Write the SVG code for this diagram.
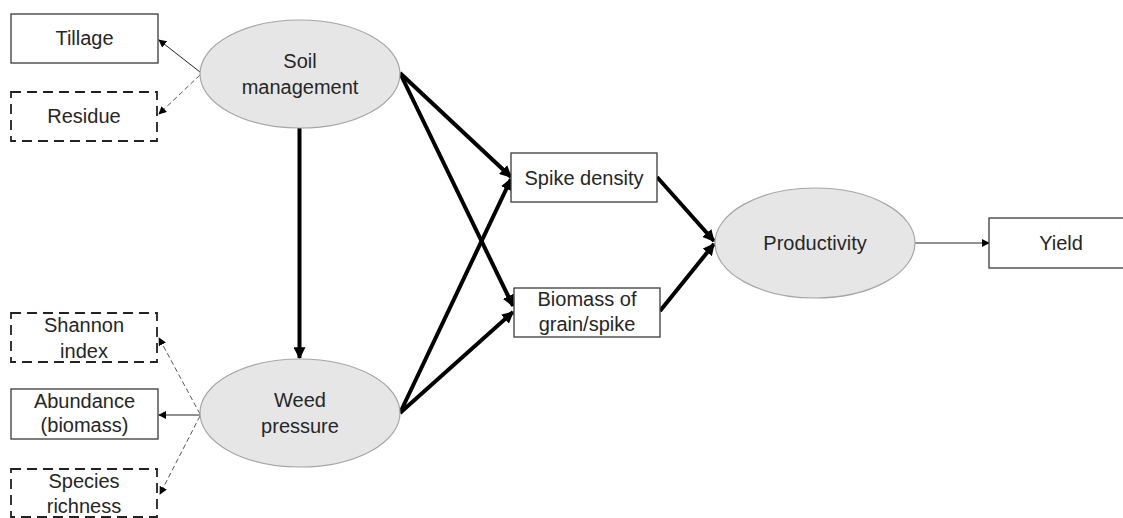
<svg xmlns="http://www.w3.org/2000/svg" width="1123" height="518" viewBox="0 0 1123 518">
<style>
text{font-family:"Liberation Sans",Arial,sans-serif;font-size:20px;fill:#262626;text-anchor:middle}
.box{fill:#fff;stroke:#3a3a3a;stroke-width:1.3}
.dbox{fill:#fff;stroke:#222;stroke-width:1.8;stroke-dasharray:10 6}
.ell{fill:#e6e6e6;stroke:#a6a6a6;stroke-width:1.2}
.thick{stroke:#000;stroke-width:4;fill:none;marker-end:url(#ah)}
.thin{stroke:#222;stroke-width:1;fill:none;marker-end:url(#as)}
.dash{stroke:#555;stroke-width:1;fill:none;stroke-dasharray:5 3;marker-end:url(#as)}
</style>
<defs>
<marker id="ah" viewBox="0 0 10 10" markerWidth="12" markerHeight="12" refX="9" refY="5" orient="auto" markerUnits="userSpaceOnUse"><path d="M0,0 L10,5 L0,10 z" fill="#000"/></marker>
<marker id="as" viewBox="0 0 10 10" markerWidth="8" markerHeight="8" refX="9" refY="5" orient="auto" markerUnits="userSpaceOnUse"><path d="M0,0 L10,5 L0,10 z" fill="#000"/></marker>
</defs>
<rect width="1123" height="518" fill="#fff"/>
<g id="connectors">
<line class="thin" x1="200" y1="72" x2="159" y2="40"/>
<line class="dash" x1="200" y1="75" x2="159" y2="114"/>
<line class="thick" x1="299.5" y1="128" x2="299.5" y2="358"/>
<line class="dash" x1="200" y1="414" x2="159" y2="338"/>
<line class="thin" x1="200" y1="415" x2="159" y2="415"/>
<line class="dash" x1="200" y1="416" x2="160" y2="494"/>
<line class="thick" x1="400" y1="73" x2="511" y2="177"/>
<line class="thick" x1="400" y1="73" x2="513" y2="306"/>
<line class="thick" x1="400" y1="413" x2="511" y2="179"/>
<line class="thick" x1="400" y1="413" x2="513" y2="312"/>
<line class="thick" x1="657" y1="177" x2="714" y2="241"/>
<line class="thick" x1="660" y1="311" x2="714" y2="244"/>
<line class="thin" x1="915" y1="243" x2="989" y2="243"/>
</g>
<g id="tillage"><rect class="box" x="11" y="14" width="147" height="49"/><text x="84.5" y="45">Tillage</text></g>
<g id="residue"><rect class="dbox" x="11" y="92" width="146" height="49"/><text x="84" y="123">Residue</text></g>
<g id="soil-management"><ellipse class="ell" cx="300" cy="74" rx="100" ry="54"/><text x="300" y="68">Soil</text><text x="300" y="94">management</text></g>
<g id="shannon-index"><rect class="dbox" x="11" y="313" width="146" height="49"/><text x="84" y="332">Shannon</text><text x="84" y="358">index</text></g>
<g id="abundance"><rect class="box" x="11" y="389" width="147" height="50"/><text x="84.5" y="408">Abundance</text><text x="84.5" y="432">(biomass)</text></g>
<g id="species-richness"><rect class="dbox" x="11" y="469" width="146" height="48"/><text x="84" y="488">Species</text><text x="84" y="513">richness</text></g>
<g id="weed-pressure"><ellipse class="ell" cx="300" cy="413" rx="100" ry="54"/><text x="300" y="407">Weed</text><text x="300" y="433">pressure</text></g>
<g id="spike-density"><rect class="box" x="511" y="153" width="146" height="49"/><text x="584" y="185">Spike density</text></g>
<g id="biomass-grain-spike"><rect class="box" x="514" y="288" width="146" height="49"/><text x="587" y="306">Biomass of</text><text x="587" y="331">grain/spike</text></g>
<g id="productivity"><ellipse class="ell" cx="815" cy="243" rx="100" ry="55"/><text x="815" y="250">Productivity</text></g>
<g id="yield"><rect class="box" x="989" y="218" width="140" height="50"/><text x="1061" y="250">Yield</text></g>
</svg>
